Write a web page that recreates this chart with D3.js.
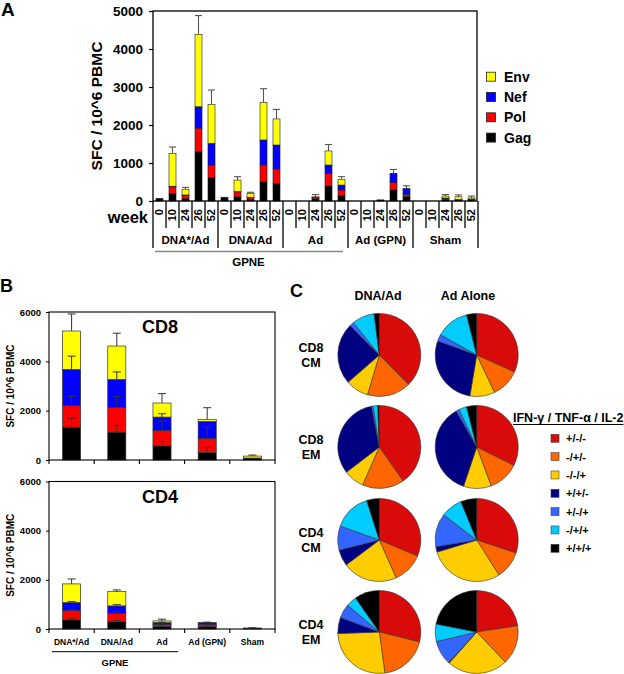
<!DOCTYPE html>
<html><head><meta charset="utf-8">
<script src="https://cdn.jsdelivr.net/npm/d3@7"></script>
<style>body{margin:0;background:#fff}svg{display:block;font-family:"Liberation Sans",Arial,Helvetica,sans-serif;font-weight:bold}</style>
</head><body><svg id="c" width="624" height="674"></svg>
<script>
// ---------- Panel A data ----------
const groupsA = ["DNA*/Ad","DNA/Ad","Ad","Ad (GPN)","Sham"];
const weeksA = ["0","10","24","26","52"];
const gagA = [70,200,60,1300,613, 100,110,50,508,465, 0,0,60,395,150, 0,0,30,290,120, 0,0,40,30,50];
const polA = [0,170,80,620,334, 0,130,40,440,377, 0,0,30,333,140, 0,0,0,200,50, 0,0,30,10,0];
const nefA = [0,20,20,560,571, 0,10,10,658,632, 0,0,10,219,130, 0,0,0,240,160, 0,0,10,0,0];
const envA = [0,860,150,1900,1027, 0,300,100,990,686, 0,0,10,370,150, 0,0,0,0,0, 0,0,50,70,30];
const errA = [0,170,50,500,375, 0,90,30,360,250, 0,0,60,170,70, 0,0,0,100,70, 0,0,40,50,50];
const ticksA = [0,1000,2000,3000,4000,5000];
const legendA = ["Env","Nef","Pol","Gag"];

// ---------- Panel B data ----------
const catsB = ["DNA*/Ad","DNA/Ad","Ad","Ad (GPN)","Sham"];
const cd8Gag = [1330,1130,570,310,80];
const cd8Pol = [870,1000,625,570,0];
const cd8Nef = [1470,1130,545,680,0];
const cd8Env = [1560,1360,570,90,80];
const cd8GagErr = [370,270,180,200,0];
const cd8PolErr = [380,450,390,450,0];
const cd8NefErr = [540,310,135,0,0];
const cd8EnvErr = [690,520,380,470,40];
const cd4Gag = [370,300,100,90,20];
const cd4Pol = [380,340,80,80,5];
const cd4Nef = [325,300,80,90,5];
const cd4Env = [760,580,70,0,10];
const cd4GagErr = [40,40,20,20,0];
const cd4PolErr = [40,60,20,20,0];
const cd4NefErr = [40,50,20,20,0];
const cd4EnvErr = [200,70,70,40,10];
const ticksB = [0,2000,4000,6000];

// ---------- Panel C data ----------
const cytoLabels = ["+/-/-","-/+/-","-/-/+","+/+/-","+/-/+","-/+/+","+/+/+"];
const cytoColors = ["#D90A0A","#FF6600","#FFCC00","#000080","#3366FF","#00CCFF","#000000"];
const pieCols = ["DNA/Ad","Ad Alone"];
const pieRows = [["CD8","CM"],["CD8","EM"],["CD4","CM"],["CD4","EM"]];
const cd8cmDNA = [37.6,17,9,24,1.7,8.7,2];
const cd8cmAd  = [31.8,11.2,9.7,27.9,2.6,13,3.9];
const cd8emDNA = [40.3,16.3,8,32.4,0.6,1.8,0.6];
const cd8emAd  = [32.4,12,10.8,36.7,1.2,3.1,3.9];
const cd4cmDNA = [31.3,12,21.4,6.3,9.4,14.6,4.9];
const cd4cmAd  = [30.1,10.9,29.3,2.1,13,8.4,6.2];
const cd4emDNA = [28.9,19,26.6,6.3,5.5,4.1,9.7];
const cd4emAd  = [22.7,15.4,23.7,0.3,9.5,6.8,22];

const svg = d3.select("#c");
const segKeys = ["Gag","Pol","Nef","Env"];
const segCol = {Gag:"#000000",Pol:"#FF0000",Nef:"#0000FF",Env:"#FFFF00"};
const fmt = d3.format("d");

// ================= Panel A =================
(function(){
  const keys = groupsA.flatMap(g => weeksA.map(w => g + "|" + w));
  const x = d3.scaleBand().domain(keys).range([153,478]).paddingInner(0.46).paddingOuter(0.23);
  const y = d3.scaleLinear().domain([0,5000]).range([201,11]);
  const rows = keys.map((k,i)=>({key:k,Gag:gagA[i],Pol:polA[i],Nef:nefA[i],Env:envA[i],err:errA[i]}));
  const st = d3.stack().keys(segKeys)(rows);
  const g = svg.append("g");
  rows.forEach(r=>{
    const tot = r.Gag+r.Pol+r.Nef+r.Env;
    if(r.err>0){
      const cx = x(r.key)+x.bandwidth()/2;
      g.append("line").attr("x1",cx).attr("x2",cx).attr("y1",y(tot)).attr("y2",y(tot+r.err)).attr("stroke","#555").attr("stroke-width",1.1);
      g.append("line").attr("x1",cx-3.5).attr("x2",cx+3.5).attr("y1",y(tot+r.err)).attr("y2",y(tot+r.err)).attr("stroke","#555").attr("stroke-width",1.1);
    }
  });
  st.forEach(s=>{
    g.selectAll(null).data(s.filter(d=>d[1]-d[0]>0)).enter().append("rect")
      .attr("x",d=>x(d.data.key)).attr("width",x.bandwidth())
      .attr("y",d=>y(d[1])).attr("height",d=>y(d[0])-y(d[1]))
      .attr("fill",segCol[s.key]).attr("stroke","#222").attr("stroke-width",0.6);
  });
  g.append("rect").attr("x",153).attr("y",11).attr("width",324).attr("height",190).attr("fill","none").attr("stroke","#000").attr("stroke-width",1.3);
  const ax = g.append("g").attr("transform","translate(153,0)").call(d3.axisLeft(y).tickValues(ticksA).tickFormat(fmt).tickSize(4).tickPadding(6));
  ax.select(".domain").remove();
  ax.selectAll("line").attr("stroke","#000").attr("stroke-width",1.2);
  ax.selectAll("text").attr("font-size",13.5).attr("font-weight","bold").attr("font-family","Liberation Sans, Arial");
  const step = x.step();
  const x0 = x.range()[0];
  for(let i=0;i<=keys.length;i++){
    const xx = x0 + i*step;
    g.append("line").attr("x1",xx).attr("x2",xx).attr("y1",201).attr("y2",i%5===0?248:228).attr("stroke","#000").attr("stroke-width",1.3);
  }
  keys.forEach(k=>{
    const cx = x(k)+x.bandwidth()/2;
    g.append("text").attr("transform",`translate(${cx},209) rotate(-90)`).attr("dy","0.36em").attr("text-anchor","end").attr("font-size",11).text(k.split("|")[1]);
  });
  g.append("text").attr("x",148).attr("y",223).attr("text-anchor","end").attr("font-size",16.5).text("week");
  groupsA.forEach((gr,i)=>{
    const cx = x0 + (i*5+2.5)*step;
    g.append("text").attr("x",cx).attr("y",244).attr("text-anchor","middle").attr("font-size",11.5).text(gr);
  });
  g.append("line").attr("x1",x0+2).attr("x2",x0+15*step-5).attr("y1",251.5).attr("y2",251.5).attr("stroke","#888").attr("stroke-width",1.6);
  g.append("text").attr("x",x0+7.5*step-2).attr("y",266).attr("text-anchor","middle").attr("font-size",11.5).text("GPNE");
  g.append("text").attr("transform","translate(102,106) rotate(-90)").attr("text-anchor","middle").attr("font-size",15.5).text("SFC / 10^6 PBMC");
  g.append("text").attr("x",1).attr("y",16).attr("font-size",19).text("A");
  legendA.forEach((n,i)=>{
    const cy = 76.7 + i*20.3;
    g.append("rect").attr("x",491-4.5).attr("y",cy-4.5).attr("width",9).attr("height",9).attr("fill",segCol[n]).attr("stroke","#222").attr("stroke-width",0.8);
    g.append("text").attr("x",504).attr("y",cy).attr("dy","0.36em").attr("font-size",14).text(n);
  });
})();

// ================= Panel B =================
function drawB(top, bottom, title, gag, pol, nef, env, gE, pE, nE, eE, withLabels){
  const x = d3.scaleBand().domain(catsB).range([49,275]).paddingInner(0.6).paddingOuter(0.3);
  const y = d3.scaleLinear().domain([0,6000]).range([bottom, top]);
  const rows = catsB.map((c,i)=>({key:c,Gag:gag[i],Pol:pol[i],Nef:nef[i],Env:env[i],
    errs:{Gag:gE[i],Pol:pE[i],Nef:nE[i],Env:eE[i]}}));
  const st = d3.stack().keys(segKeys)(rows);
  const g = svg.append("g");
  st.forEach(s=>{
    g.selectAll(null).data(s.filter(d=>d[1]-d[0]>0)).enter().append("rect")
      .attr("x",d=>x(d.data.key)).attr("width",x.bandwidth())
      .attr("y",d=>y(d[1])).attr("height",d=>y(d[0])-y(d[1]))
      .attr("fill",segCol[s.key]).attr("stroke","#333").attr("stroke-width",0.7);
  });
  st.forEach(s=>{
    s.forEach(d=>{
      const e = d.data.errs[s.key];
      if(e>0 && d[1]-d[0]>0){
        const cx = x(d.data.key)+x.bandwidth()/2;
        g.append("line").attr("x1",cx).attr("x2",cx).attr("y1",y(d[1])).attr("y2",y(d[1]+e)).attr("stroke","#333").attr("stroke-width",1);
        g.append("line").attr("x1",cx-4).attr("x2",cx+4).attr("y1",y(d[1]+e)).attr("y2",y(d[1]+e)).attr("stroke","#333").attr("stroke-width",1);
      }
    });
  });
  g.append("rect").attr("x",49).attr("y",top).attr("width",226).attr("height",bottom-top).attr("fill","none").attr("stroke","#000").attr("stroke-width",1.1);
  const ax = g.append("g").attr("transform","translate(49,0)").call(d3.axisLeft(y).tickValues(ticksB).tickFormat(fmt).tickSize(3).tickPadding(5));
  ax.select(".domain").remove();
  ax.selectAll("line").attr("stroke","#000");
  ax.selectAll("text").attr("font-size",9.5).attr("font-weight","bold").attr("font-family","Liberation Sans, Arial");
  for(let i=0;i<=catsB.length;i++){
    const xx = x.range()[0] + i*x.step();
    g.append("line").attr("x1",xx).attr("x2",xx).attr("y1",bottom).attr("y2",bottom+4).attr("stroke","#000").attr("stroke-width",1.1);
  }
  g.append("text").attr("x",160).attr("y",top+21).attr("text-anchor","middle").attr("font-size",18).text(title);
  g.append("text").attr("transform",`translate(14,${(top+bottom)/2}) rotate(-90)`).attr("text-anchor","middle").attr("font-size",10).text("SFC / 10^6 PBMC");
  if(withLabels){
    catsB.forEach(c=>{
      g.append("text").attr("x",x(c)+x.bandwidth()/2).attr("y",bottom+16).attr("text-anchor","middle").attr("font-size",8.5).text(c);
    });
    g.append("line").attr("x1",52).attr("x2",178).attr("y1",bottom+22.7).attr("y2",bottom+22.7).attr("stroke","#000").attr("stroke-width",1);
    g.append("text").attr("x",115).attr("y",bottom+36.5).attr("text-anchor","middle").attr("font-size",9.5).text("GPNE");
  }
}
drawB(312, 460, "CD8", cd8Gag, cd8Pol, cd8Nef, cd8Env, cd8GagErr, cd8PolErr, cd8NefErr, cd8EnvErr, false);
drawB(481.5, 629, "CD4", cd4Gag, cd4Pol, cd4Nef, cd4Env, cd4GagErr, cd4PolErr, cd4NefErr, cd4EnvErr, true);
svg.append("text").attr("x",0).attr("y",292).attr("font-size",18).text("B");

// ================= Panel C =================
(function(){
  const g = svg.append("g");
  g.append("text").attr("x",290).attr("y",297).attr("font-size",18).text("C");
  const colX = [379.3, 476.7];
  const rowY = [355, 447, 540, 632];
  const data = [[cd8cmDNA, cd8cmAd],[cd8emDNA, cd8emAd],[cd4cmDNA, cd4cmAd],[cd4emDNA, cd4emAd]];
  const pie = d3.pie().sort(null).value(d=>d);
  const arc = d3.arc().innerRadius(0).outerRadius(41.5);
  const titleX = [378, 468];
  pieCols.forEach((c,i)=>g.append("text").attr("x",titleX[i]).attr("y",300).attr("text-anchor","middle").attr("font-size",12.5).text(c));
  pieRows.forEach((r,ri)=>{
    g.append("text").attr("x",311).attr("y",rowY[ri]-8).attr("dy","0.36em").attr("text-anchor","middle").attr("font-size",12.5).text(r[0]);
    g.append("text").attr("x",311).attr("y",rowY[ri]+7).attr("dy","0.36em").attr("text-anchor","middle").attr("font-size",12.5).text(r[1]);
    data[ri].forEach((vals,ci)=>{
      const pg = g.append("g").attr("transform",`translate(${colX[ci]},${rowY[ri]})`);
      pg.selectAll("path").data(pie(vals)).enter().append("path")
        .attr("d",arc).attr("fill",(d,i)=>cytoColors[i]).attr("stroke","#333").attr("stroke-width",0.6);
    });
  });
  const t = g.append("text").attr("x",513).attr("y",422).attr("font-size",12.5).text("IFN-γ / TNF-α / IL-2");
  const w = t.node().getComputedTextLength();
  g.append("line").attr("x1",513).attr("x2",513+w).attr("y1",424.5).attr("y2",424.5).attr("stroke","#000").attr("stroke-width",1.1);
  cytoLabels.forEach((l,i)=>{
    const cy = 438.3 + i*18.33;
    g.append("rect").attr("x",551).attr("y",cy-4).attr("width",8).attr("height",8).attr("fill",cytoColors[i]).attr("stroke","#444").attr("stroke-width",0.6);
    g.append("text").attr("x",566).attr("y",cy).attr("dy","0.36em").attr("font-size",11).text(l);
  });
})();
</script></body></html>
